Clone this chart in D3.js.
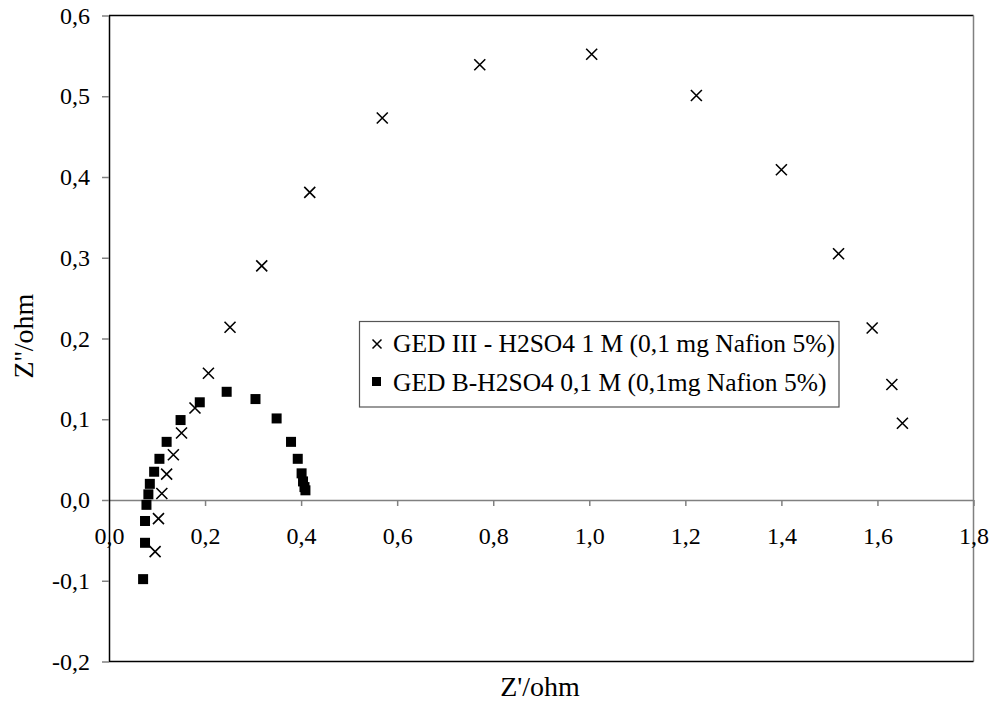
<!DOCTYPE html>
<html>
<head>
<meta charset="utf-8">
<script src="https://cdn.jsdelivr.net/npm/d3@7"></script>
<style>
  body { margin: 0; background: #fff; }
  text { font-family: "Liberation Serif", "DejaVu Serif", serif; fill: #000; }
</style>
</head>
<body>
<script>
// series 1: GED III - H2SO4 1 M (crosses)
var gedIIIx = [0.096, 0.103, 0.110, 0.120, 0.134, 0.151, 0.179, 0.207, 0.252, 0.318,
               0.418, 0.569, 0.772, 1.005, 1.223, 1.400, 1.519, 1.589, 1.630, 1.652];
var gedIIIy = [-0.064, -0.023, 0.008, 0.032, 0.056, 0.083, 0.114, 0.157, 0.214, 0.290,
               0.381, 0.473, 0.539, 0.552, 0.501, 0.409, 0.305, 0.213, 0.143, 0.095];

// series 2: GED B - H2SO4 0,1 M (squares)
var gedBx = [0.071, 0.075, 0.075, 0.078, 0.082, 0.085, 0.094, 0.105, 0.120, 0.149,
             0.189, 0.245, 0.305, 0.349, 0.379, 0.393, 0.401, 0.404, 0.407, 0.409];
var gedBy = [-0.098, -0.053, -0.026, -0.006, 0.007, 0.020, 0.035, 0.051, 0.072, 0.099,
             0.121, 0.134, 0.125, 0.101, 0.072, 0.051, 0.033, 0.023, 0.016, 0.012];

var seriesNames = ["GED III - H2SO4 1 M (0,1 mg Nafion 5%)", "GED B-H2SO4 0,1 M (0,1mg Nafion 5%)"];
var xTicks = [0, 0.2, 0.4, 0.6, 0.8, 1.0, 1.2, 1.4, 1.6, 1.8];
var yTicks = [-0.2, -0.1, 0, 0.1, 0.2, 0.3, 0.4, 0.5, 0.6];
var xTitle = "Z'/ohm";
var yTitle = "Z''/ohm";

var W = 992, H = 704;
var plotL = 109, plotR = 973.5, plotT = 15.5, plotB = 661.5;

var svg = d3.select("body").append("svg")
        .attr("width", W)
        .attr("height", H);

var x = d3.scaleLinear().domain([0, 1.8]).range([plotL, plotR]);
var y = d3.scaleLinear().domain([-0.2, 0.6]).range([plotB, plotT]);
var fmt = function(d){ return d3.format(".1f")(d).replace(".", ",").replace("−", "-"); };

// plot frame
var frame = svg.append("g");
frame.append("line").attr("x1", plotL).attr("x2", plotR).attr("y1", plotT).attr("y2", plotT)
     .attr("stroke", "#000").attr("stroke-width", 1.5);
frame.append("line").attr("x1", plotR).attr("x2", plotR).attr("y1", plotT).attr("y2", plotB)
     .attr("stroke", "#808080").attr("stroke-width", 1.5);
frame.append("line").attr("x1", plotL).attr("x2", plotR).attr("y1", plotB).attr("y2", plotB)
     .attr("stroke", "#000").attr("stroke-width", 1.5);

// x axis sits at y = 0
var xAxis = svg.append("g")
      .attr("transform", "translate(0," + y(0) + ")")
      .call(d3.axisBottom(x).tickValues(xTicks).tickSizeInner(6).tickSizeOuter(0).tickPadding(21).tickFormat(fmt));
xAxis.select(".domain").attr("stroke", "#808080").attr("stroke-width", 1.5);
xAxis.selectAll(".tick line").attr("stroke", "#808080").attr("stroke-width", 1.5);
xAxis.selectAll(".tick").filter(function(d){ return d === 0; }).select("line").remove();
xAxis.selectAll("text").style("font-size", "24px").attr("fill", "#000")
     .style("font-family", "Liberation Serif, serif");

var yAxis = svg.append("g")
      .attr("transform", "translate(" + plotL + ",0)")
      .call(d3.axisLeft(y).tickValues(yTicks).tickSizeInner(7).tickSizeOuter(0).tickPadding(12).tickFormat(fmt));
yAxis.select(".domain").attr("stroke", "#000").attr("stroke-width", 1.5);
yAxis.selectAll(".tick line").attr("stroke", "#808080").attr("stroke-width", 1.5);
yAxis.selectAll("text").style("font-size", "24px").attr("fill", "#000")
     .style("font-family", "Liberation Serif, serif");

// axis titles
svg.append("text").attr("x", 540).attr("y", 696)
   .attr("text-anchor", "middle").style("font-size", "28px").text(xTitle);
svg.append("text").attr("transform", "translate(33,336) rotate(-90)")
   .attr("text-anchor", "middle").style("font-size", "28px").text(yTitle);

// markers
var crossPath = function(cx, cy, s){
  return "M" + (cx - s) + "," + (cy - s) + "L" + (cx + s) + "," + (cy + s) +
         "M" + (cx - s) + "," + (cy + s) + "L" + (cx + s) + "," + (cy - s);
};

var gedIII = gedIIIx.map(function(v, i){ return {x: v, y: gedIIIy[i]}; });
var gedB = gedBx.map(function(v, i){ return {x: v, y: gedBy[i]}; });

var crossGroup = svg.append("g").attr("class", "crossGroup");
crossGroup.selectAll("path").data(gedIII).enter().append("path")
          .attr("d", function(d){ return crossPath(x(d.x), y(d.y), 5.5); })
          .attr("stroke", "#000").attr("stroke-width", 1.6).attr("fill", "none");

var squareGroup = svg.append("g").attr("class", "squareGroup");
var sq = 10;
squareGroup.selectAll("rect").data(gedB).enter().append("rect")
           .attr("x", function(d){ return x(d.x) - sq / 2; })
           .attr("y", function(d){ return y(d.y) - sq / 2; })
           .attr("width", sq).attr("height", sq)
           .attr("fill", "#000");

// legend
var legend = svg.append("g").attr("class", "legend");
legend.append("rect").attr("x", 359.5).attr("y", 321.5).attr("width", 479.5).attr("height", 85.5)
      .attr("fill", "#fff").attr("stroke", "#555").attr("stroke-width", 1.2);
legend.append("path").attr("d", crossPath(377, 344, 4.5))
      .attr("stroke", "#000").attr("stroke-width", 1.5);
legend.append("rect").attr("x", 372).attr("y", 377).attr("width", 9).attr("height", 9).attr("fill", "#000");
legend.selectAll("text.lbl").data(seriesNames).enter().append("text")
      .attr("class", "lbl")
      .attr("x", 393)
      .attr("y", function(d, i){ return 352 + i * 38.5; })
      .style("font-size", "25.5px")
      .text(function(d){ return d; });
</script>
</body>
</html>
